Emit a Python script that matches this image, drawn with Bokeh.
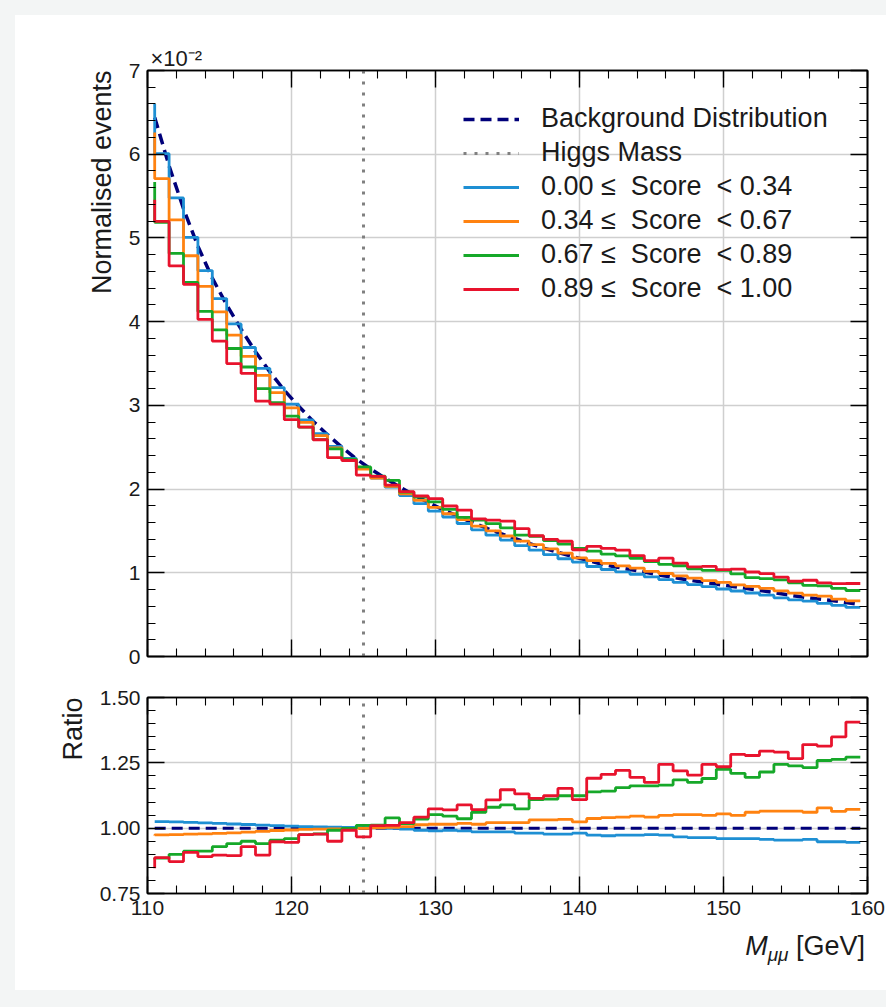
import numpy as np
from bokeh.plotting import figure
from bokeh.layouts import column
from bokeh.models import (FixedTicker, LinearAxis, Legend, LegendItem, Title, Div,
                          Range1d, NumeralTickFormatter, CustomJSTickFormatter)
from bokeh.embed import file_html
from bokeh.resources import INLINE

# ---------------- data ----------------
bin_centers = np.arange(110.5, 160.0, 1.0)          # M_mumu [GeV]

# background distribution, in units of 1e-2 (normalised events)
background = [6.44, 5.86, 5.35, 4.90, 4.52, 4.20, 3.91, 3.64, 3.40, 3.18,
              2.99, 2.81, 2.65, 2.50, 2.36, 2.24, 2.13, 2.025, 1.93, 1.84,
              1.755, 1.68, 1.605, 1.535, 1.47, 1.41, 1.35, 1.295, 1.245, 1.195,
              1.15, 1.105, 1.07, 1.04, 1.01, 0.975, 0.945, 0.915, 0.89, 0.865,
              0.84, 0.815, 0.79, 0.765, 0.735, 0.71, 0.69, 0.67, 0.645, 0.62]

# ratio of each score category to the background
ratio_cat0 = [1.025, 1.025, 1.024, 1.022, 1.020, 1.018, 1.016, 1.014, 1.012, 1.010,
              1.008, 1.006, 1.005, 1.004, 1.003, 1.002, 1.001, 0.999, 0.996, 0.992,
              0.990, 0.992, 0.990, 0.986, 0.986, 0.986, 0.981, 0.981, 0.977, 0.977,
              0.981, 0.973, 0.971, 0.973, 0.973, 0.975, 0.973, 0.967, 0.964, 0.964,
              0.960, 0.960, 0.960, 0.957, 0.954, 0.954, 0.957, 0.948, 0.948, 0.946]
ratio_cat1 = [0.972, 0.974, 0.975, 0.977, 0.978, 0.980, 0.982, 0.985, 0.988, 0.991,
              0.993, 0.995, 0.996, 0.997, 0.998, 0.999, 1.001, 1.003, 1.006, 1.013,
              1.015, 1.015, 1.018, 1.015, 1.021, 1.021, 1.021, 1.032, 1.032, 1.034,
              1.024, 1.037, 1.040, 1.042, 1.046, 1.042, 1.049, 1.052, 1.052, 1.049,
              1.055, 1.049, 1.061, 1.065, 1.065, 1.065, 1.061, 1.078, 1.064, 1.072]
ratio_cat2 = [0.880, 0.885, 0.900, 0.912, 0.912, 0.929, 0.941, 0.950, 0.941, 0.954,
              0.960, 0.975, 0.978, 0.992, 0.999, 1.011, 1.012, 1.039, 1.017, 1.035,
              1.052, 1.046, 1.036, 1.061, 1.080, 1.089, 1.074, 1.109, 1.111, 1.124,
              1.124, 1.139, 1.142, 1.155, 1.162, 1.162, 1.165, 1.185, 1.175, 1.190,
              1.225, 1.210, 1.194, 1.215, 1.244, 1.238, 1.232, 1.259, 1.263, 1.272]
ratio_cat3 = [0.847, 0.887, 0.872, 0.907, 0.891, 0.897, 0.895, 0.929, 0.897, 0.948,
              0.946, 0.975, 0.977, 0.950, 0.992, 0.967, 1.010, 1.011, 1.021, 1.042,
              1.074, 1.070, 1.089, 1.071, 1.108, 1.147, 1.131, 1.114, 1.124, 1.152,
              1.109, 1.191, 1.206, 1.221, 1.194, 1.175, 1.244, 1.219, 1.203, 1.244,
              1.235, 1.282, 1.278, 1.295, 1.291, 1.266, 1.320, 1.314, 1.349, 1.406]

score_edges = ["0.00", "0.34", "0.67", "0.89", "1.00"]
cat_colors = ["#1e8fd3", "#ff8210", "#16a829", "#e8132d"]
higgs_mass = 125.0

x_lim = (110, 160)
top_ylim = (0, 7)
ratio_ylim = (0.75, 1.50)
x_major = [110, 120, 130, 140, 150, 160]
x_minor = list(range(110, 161, 2))
top_major = [0, 1, 2, 3, 4, 5, 6, 7]
top_minor = [round(v * 0.2, 1) for v in range(0, 36)]
ratio_major = [0.75, 1.00, 1.25, 1.50]
ratio_minor = [round(0.75 + 0.05 * i, 2) for i in range(16)]

FONT = "Liberation Sans"
NAVY = "#00007a"
GRAY = "#808080"
TXT = "#1a1a1a"

bkg = np.array(background)
ratios = [np.array(r) for r in (ratio_cat0, ratio_cat1, ratio_cat2, ratio_cat3)]
hists = [bkg * r for r in ratios]
labels = [f"{score_edges[i]} ≤  Score  < {score_edges[i+1]}" for i in range(4)]


def style_axis(ax, ticker, fmt, show):
    ax.ticker = ticker
    ax.major_tick_in = 17
    ax.major_tick_out = 0
    ax.minor_tick_in = 8
    ax.minor_tick_out = 0
    ax.axis_line_color = "black"
    ax.axis_line_width = 1.6
    ax.major_tick_line_color = "black"
    ax.major_tick_line_width = 1.4
    ax.minor_tick_line_color = "black"
    ax.minor_tick_line_width = 1.1
    ax.major_label_text_font = FONT
    ax.major_label_text_font_size = "21px"
    ax.major_label_text_color = TXT
    ax.major_label_standoff = 7
    if show:
        ax.formatter = fmt
    else:
        ax.formatter = CustomJSTickFormatter(code="return ''")
        ax.major_label_standoff = 0


def make_fig(height, ylim, border_top, border_bottom):
    f = figure(width=871, height=height, x_range=Range1d(*x_lim), y_range=Range1d(*ylim),
               output_backend="svg", toolbar_location=None,
               min_border_left=132, min_border_right=19,
               min_border_top=border_top, min_border_bottom=border_bottom)
    f.outline_line_color = "black"
    f.outline_line_width = 1.6
    f.background_fill_color = "white"
    f.border_fill_color = "white"
    return f


def side_title(text, size, align, standoff, offset=0):
    return Title(text=text, align=align, offset=offset, standoff=standoff,
                 text_font=FONT, text_font_size=size, text_font_style="normal",
                 text_color=TXT)


# ---------------- top panel ----------------
top = make_fig(661, top_ylim, 55, 20)
xt = FixedTicker(ticks=x_major, minor_ticks=x_minor)
yt = FixedTicker(ticks=top_major, minor_ticks=top_minor)
style_axis(top.xaxis[0], xt, None, False)
style_axis(top.yaxis[0], yt, NumeralTickFormatter(format="0"), True)
ax_top = LinearAxis()
style_axis(ax_top, FixedTicker(ticks=x_major, minor_ticks=x_minor), None, False)
top.add_layout(ax_top, "above")
ax_right = LinearAxis()
style_axis(ax_right, FixedTicker(ticks=top_major, minor_ticks=top_minor), None, False)
top.add_layout(ax_right, "right")
top.xgrid.ticker = xt
top.ygrid.ticker = yt
for g in (top.xgrid, top.ygrid):
    g.grid_line_color = "#cfcfcf"
    g.grid_line_width = 1.5

r_bkg = top.line(bin_centers, bkg, line_color=NAVY, line_width=3.5, line_dash="11 6")
r_higgs = top.line([higgs_mass, higgs_mass], list(top_ylim), line_color=GRAY,
                   line_width=3, line_dash="3 8")
r_cats = []
for h, c in zip(hists, cat_colors):
    r_cats.append(top.step(bin_centers, h, mode="before", line_color=c, line_width=2.8))

items = [LegendItem(label="Background Distribution", renderers=[r_bkg]),
         LegendItem(label="Higgs Mass", renderers=[r_higgs])]
items += [LegendItem(label=l, renderers=[r]) for l, r in zip(labels, r_cats)]
legend = Legend(items=items, location=(316, 352), border_line_color=None,
                background_fill_alpha=0, label_text_font=FONT,
                label_text_font_size="27px", label_text_color=TXT,
                glyph_width=56, glyph_height=30, label_standoff=22, spacing=3,
                padding=0, margin=0)
top.add_layout(legend)

top.add_layout(side_title("Normalised events", "27px", "right", 18), "left")
top.add_layout(side_title("×10⁻²", "22px", "left", 0, offset=3), "above")

# ---------------- ratio panel ----------------
bot = make_fig(254, ratio_ylim, 21, 37)
xt2 = FixedTicker(ticks=x_major, minor_ticks=x_minor)
yt2 = FixedTicker(ticks=ratio_major, minor_ticks=ratio_minor)
style_axis(bot.xaxis[0], xt2, NumeralTickFormatter(format="0"), True)
style_axis(bot.yaxis[0], yt2, NumeralTickFormatter(format="0.00"), True)
ax_top2 = LinearAxis()
style_axis(ax_top2, FixedTicker(ticks=x_major, minor_ticks=x_minor), None, False)
bot.add_layout(ax_top2, "above")
ax_right2 = LinearAxis()
style_axis(ax_right2, FixedTicker(ticks=ratio_major, minor_ticks=ratio_minor), None, False)
bot.add_layout(ax_right2, "right")
bot.xgrid.ticker = xt2
bot.ygrid.ticker = yt2
for g in (bot.xgrid, bot.ygrid):
    g.grid_line_color = "#cfcfcf"
    g.grid_line_width = 1.5

bot.line(bin_centers, bkg / bkg, line_color=NAVY, line_width=3, line_dash="11 6")
bot.line([higgs_mass, higgs_mass], list(ratio_ylim), line_color=GRAY,
         line_width=3, line_dash="3 8")
for r, c in zip(ratios, cat_colors):
    bot.step(bin_centers, r, mode="before", line_color=c, line_width=2.8)

bot.add_layout(side_title("Ratio", "27px", "right", 18), "left")

xlabel = Div(
    text=("<div style=\"display:block; width:850px; text-align:right; "
          "font-family:'Liberation Sans'; font-size:27px; line-height:27px; "
          "color:#1a1a1a; padding:3px 0 0 0; margin:0;\">"
          "<i>M</i><sub style=\"font-size:19px; font-style:italic;\">μμ</sub> [GeV]</div>"),
    width=871, height=60, margin=(0, 0, 0, 0))

inner = column(top, bot, xlabel, spacing=0, margin=(15, 0, 17, 15),
               styles={"background-color": "white"})
layout = column(inner, styles={"background-color": "#f3f5f5"})
open("out.html", "w").write(file_html(layout, INLINE))
